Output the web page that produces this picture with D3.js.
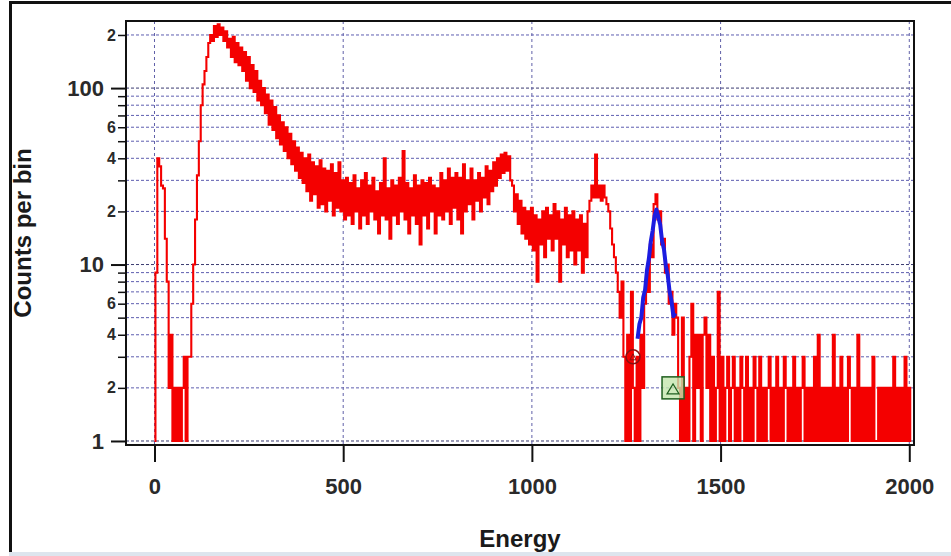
<!DOCTYPE html>
<html>
<head>
<meta charset="utf-8">
<script src="https://cdn.jsdelivr.net/npm/d3@7"></script>
<style>
  body { margin: 0; background: #fff; }
  svg { display: block; }
  text { font-family: "Liberation Sans", Arial, sans-serif; }
</style>
</head>
<body>
<svg id="chart" width="951" height="556"></svg>
<script>
// Spectrum: counts per 5-unit energy bin, starting at energy 0
const binWidth = 5;
const counts = [
  1, 9, 40, 36, 28, 27, 14, 8, 2, 4, 1, 2, 1, 2, 1, 2, 3, 1, 3, 3,
  6, 10, 18, 32, 50, 80, 105, 125, 150, 180, 200, 185, 225, 195, 230, 200, 220, 185, 210, 170,
  190, 150, 195, 140, 180, 135, 170, 125, 160, 110, 150, 100, 135, 95, 125, 85, 110, 80, 100, 72,
  92, 62, 85, 58, 78, 52, 70, 48, 64, 44, 60, 40, 55, 37, 50, 34, 46, 31, 43, 29,
  40, 26, 42, 23, 38, 25, 36, 21, 39, 22, 35, 20, 34, 23, 37, 19, 33, 21, 38, 20,
  30, 18, 31, 19, 29, 17, 32, 20, 27, 16, 30, 19, 33, 17, 28, 20, 31, 18, 26, 15,
  29, 19, 40, 18, 27, 14, 30, 19, 28, 17, 31, 20, 44, 18, 29, 15, 27, 19, 32, 17,
  28, 13, 30, 19, 29, 16, 31, 20, 28, 15, 27, 19, 33, 18, 30, 20, 35, 17, 31, 21,
  33, 18, 31, 15, 37, 20, 30, 22, 35, 18, 30, 23, 33, 20, 31, 24, 36, 22, 34, 26,
  38, 28, 40, 31, 42, 33, 43, 34, 41, 30, 28, 20, 25, 17, 23, 15, 21, 14, 20, 13,
  21, 12, 19, 8, 18, 13, 20, 11, 21, 14, 19, 12, 22, 14, 20, 8, 18, 13, 21, 11,
  19, 12, 20, 10, 18, 12, 19, 9, 17, 11, 20, 23, 28, 24, 42, 24, 28, 23, 28, 24,
  22, 20, 16, 13, 11, 9, 7, 5, 8, 3, 1, 4, 1, 7, 2, 1, 3, 1, 4, 2,
  6, 9, 7, 13, 11, 22, 25, 18, 20, 13, 14, 9, 10, 6, 7, 4, 6, 5, 2, 1,
  5, 1, 2, 1, 3, 6, 1, 4, 2, 4, 1, 4, 5, 2, 4, 1, 3, 1, 2, 7,
  1, 3, 1, 2, 3, 1, 2, 3, 1, 2, 1, 3, 2, 1, 3, 1, 2, 1, 3, 2,
  1, 3, 1, 2, 1, 2, 3, 1, 2, 1, 3, 1, 2, 1, 3, 2, 1, 2, 1, 3,
  1, 2, 1, 2, 3, 1, 2, 1, 2, 1, 3, 1, 4, 1, 2, 1, 2, 1, 2, 1,
  4, 1, 2, 1, 3, 1, 2, 1, 3, 2, 1, 2, 1, 4, 1, 2, 1, 2, 1, 2,
  1, 3, 1, 1, 2, 1, 2, 1, 2, 1, 2, 1, 3, 1, 2, 1, 2, 1, 3, 1, 2, 1
];

// Region of interest around the 1330 peak (highlighted trace)
const roiStart = 1280;
const roiCounts = [3.8, 4.6, 5.0, 6.5, 7.2, 9.3, 10.8, 13.5, 15.6, 18.8, 20.5,
                   18.6, 16.8, 13.6, 12.2, 9.8, 8.7, 7.0, 6.2, 5.1, 5.3];

// ROI limit markers
const markers = [
  { energy: 1268, value: 3, shape: "circle" },
  { energy: 1374, value: 2, shape: "square" }
];

const xTicks = [0, 500, 1000, 1500, 2000];
const yMajorTicks = [1, 10, 100];
const yMinorTicks = [2, 3, 4, 5, 6, 7, 8, 9, 20, 30, 40, 50, 60, 70, 80, 90, 200];
const yMinorLabelled = [2, 4, 6, 20, 40, 60, 200];

const svg = d3.select("#chart");
const W = 951, H = 556;
const plot = { left: 126, right: 914, top: 21, bottom: 445 };

const x = d3.scaleLinear().domain([-75.5, 2012.5]).range([plot.left, plot.right]);
const y = d3.scaleLog().domain([0.949, 240]).range([plot.bottom, plot.top]);

// Window frame
svg.append("rect").attr("width", W).attr("height", H).attr("fill", "#fff");
svg.append("rect").attr("x", 9).attr("y", 1).attr("width", W - 9).attr("height", 3).attr("fill", "#111");
svg.append("rect").attr("x", 9).attr("y", 1).attr("width", 3).attr("height", 551).attr("fill", "#111");
svg.append("rect").attr("x", 9).attr("y", 552).attr("width", W - 9).attr("height", 4).attr("fill", "#dde5ee");

svg.append("clipPath").attr("id", "plotClip")
  .append("rect")
  .attr("x", plot.left).attr("y", plot.top)
  .attr("width", plot.right - plot.left).attr("height", plot.bottom - plot.top);

// Grid
const grid = svg.append("g").attr("clip-path", "url(#plotClip)");
grid.selectAll("line.h")
  .data(yMajorTicks.concat(yMinorTicks))
  .join("line")
  .attr("class", "h")
  .attr("x1", plot.left).attr("x2", plot.right)
  .attr("y1", d => y(d)).attr("y2", d => y(d))
  .attr("stroke", d => yMajorTicks.includes(d) ? "#3a3a70" : "#5e5eb0")
  .attr("stroke-width", 1)
  .attr("stroke-dasharray", "3,2");
grid.selectAll("line.v")
  .data(xTicks)
  .join("line")
  .attr("class", "v")
  .attr("x1", d => x(d)).attr("x2", d => x(d))
  .attr("y1", plot.top).attr("y2", plot.bottom)
  .attr("stroke", "#6060a8")
  .attr("stroke-width", 1)
  .attr("stroke-dasharray", "3,3");

// Spectrum traces (histogram steps)
const spectrum = counts.map((c, i) => ({ e: i * binWidth, c }));
const roi = roiCounts.map((c, i) => ({ e: roiStart + i * binWidth, c }));
const stepLine = d3.line().curve(d3.curveStep).x(d => x(d.e)).y(d => y(Math.max(d.c, 1)));
const smoothLine = d3.line().x(d => x(d.e)).y(d => y(Math.max(d.c, 1)));

const traces = svg.append("g").attr("clip-path", "url(#plotClip)");
traces.append("path")
  .attr("d", stepLine(spectrum))
  .attr("fill", "none")
  .attr("stroke", "#f40000")
  .attr("stroke-width", 2.1);
traces.append("path")
  .attr("d", smoothLine(roi))
  .attr("fill", "none")
  .attr("stroke", "#1c1ce0")
  .attr("stroke-width", 4)
  .attr("stroke-linejoin", "round");

// Markers
markers.forEach(m => {
  const cx = x(m.energy), cy = y(m.value);
  const g = traces.append("g").attr("transform", `translate(${cx},${cy})`);
  if (m.shape === "circle") {
    g.append("circle").attr("r", 7).attr("fill", "none")
      .attr("stroke", "#8a1010").attr("stroke-width", 1.5);
    g.append("path").attr("d", "M-3,3 L0,-3 L3,3 Z").attr("fill", "none")
      .attr("stroke", "#8a1010").attr("stroke-width", 1);
  } else {
    g.append("rect").attr("x", -11).attr("y", -11).attr("width", 22).attr("height", 22)
      .attr("fill", "#c4e6ae").attr("fill-opacity", 0.8)
      .attr("stroke", "#1f5f1f").attr("stroke-width", 1.5);
    g.append("path").attr("d", "M-6,6 L0,-4 L6,6 Z").attr("fill", "none")
      .attr("stroke", "#1f5f1f").attr("stroke-width", 1.2);
  }
});

// Plot border
svg.append("rect")
  .attr("x", plot.left).attr("y", plot.top)
  .attr("width", plot.right - plot.left).attr("height", plot.bottom - plot.top)
  .attr("fill", "none").attr("stroke", "#111").attr("stroke-width", 2);

// Axes
const xAxis = svg.append("g")
  .attr("transform", `translate(0,${plot.bottom})`)
  .call(d3.axisBottom(x).tickValues(xTicks).tickSize(17).tickPadding(16).tickFormat(d3.format("d")));
xAxis.select(".domain").remove();
xAxis.selectAll(".tick line").attr("stroke", "#111").attr("stroke-width", 2);
xAxis.selectAll(".tick text").attr("font-size", 22).attr("font-weight", "bold").attr("fill", "#2a2a2a");

const yMajor = svg.append("g")
  .attr("transform", `translate(${plot.left},0)`)
  .call(d3.axisLeft(y).tickValues(yMajorTicks).tickSize(15).tickPadding(7).tickFormat(d3.format("d")));
yMajor.select(".domain").remove();
yMajor.selectAll(".tick line").attr("stroke", "#111").attr("stroke-width", 2);
yMajor.selectAll(".tick text").attr("font-size", 22).attr("font-weight", "bold").attr("fill", "#2a2a2a");

const yMinor = svg.append("g")
  .attr("transform", `translate(${plot.left},0)`)
  .call(d3.axisLeft(y).tickValues(yMinorTicks).tickSize(8).tickPadding(2)
    .tickFormat(d => yMinorLabelled.includes(d) ? String(d).charAt(0) : ""));
yMinor.select(".domain").remove();
yMinor.selectAll(".tick line").attr("stroke", "#111").attr("stroke-width", 1.5);
yMinor.selectAll(".tick text").attr("font-size", 16).attr("font-weight", "bold").attr("fill", "#2a2a2a");

// Axis titles
svg.append("text")
  .attr("x", 520).attr("y", 547)
  .attr("text-anchor", "middle")
  .attr("font-size", 24).attr("font-weight", "bold").attr("fill", "#1a1a1a")
  .text("Energy");
svg.append("text")
  .attr("transform", "translate(31,233) rotate(-90)")
  .attr("text-anchor", "middle")
  .attr("font-size", 24).attr("font-weight", "bold").attr("fill", "#1a1a1a")
  .text("Counts per bin");
</script>
</body>
</html>
